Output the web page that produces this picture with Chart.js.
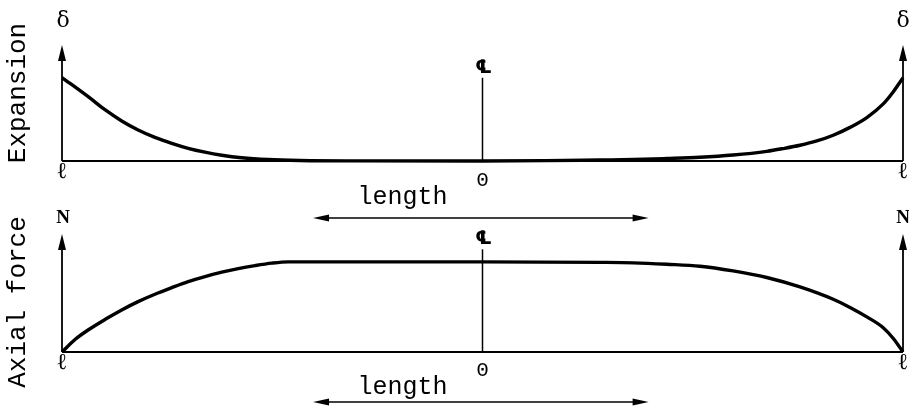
<!DOCTYPE html>
<html>
<head>
<meta charset="utf-8">
<script src="https://cdn.jsdelivr.net/npm/chart.js@4.4.1/dist/chart.umd.min.js"></script>
<style>
  body { margin: 0; background: #fff; }
  #wrap { position: relative; width: 909px; height: 407px; background: #fff; }
  #wrap canvas { position: absolute; left: 0; top: 0; }
</style>
</head>
<body>
<div id="wrap">
  <canvas id="expChart" width="909" height="407"></canvas>
  <canvas id="forceChart" width="909" height="407"></canvas>
</div>
<script>
// Expansion along the member (x from -l to +l, 0 at the centre line)
const xExp = [-1.0, -0.937, -0.897, -0.858, -0.819, -0.779, -0.739, -0.70, -0.66, -0.62, -0.573, -0.51, -0.434, -0.3, 0,
              0.15, 0.279, 0.359, 0.438, 0.517, 0.596, 0.676, 0.715, 0.755, 0.795, 0.834, 0.874, 0.914, 0.953, 0.977, 1.0];
const expansion = [0.993, 0.762, 0.607, 0.476, 0.369, 0.281, 0.21, 0.151, 0.105, 0.069, 0.039, 0.017, 0.006, 0.001, 0.0,
                   0.004, 0.012, 0.017, 0.029, 0.044, 0.071, 0.115, 0.148, 0.187, 0.238, 0.306, 0.40, 0.517, 0.68, 0.825, 0.99];

// Axial force along the member
const xForce = [-1.0, -0.969, -0.937, -0.897, -0.858, -0.819, -0.779, -0.739, -0.70, -0.66, -0.62, -0.581, -0.541, -0.501, -0.462, 0,
                0.279, 0.359, 0.438, 0.517, 0.596, 0.676, 0.755, 0.834, 0.874, 0.914, 0.953, 0.977, 1.0];
const axialForce = [0.0, 0.139, 0.247, 0.363, 0.467, 0.559, 0.641, 0.714, 0.781, 0.837, 0.886, 0.926, 0.959, 0.986, 1.0, 1.0,
                    0.995, 0.99, 0.974, 0.952, 0.90, 0.827, 0.722, 0.585, 0.495, 0.39, 0.27, 0.15, 0.0];

const endTicks = ['\u2113', '0', '\u2113'];   // tick labels at -l, 0, +l
const lengthArrow = [-0.403, 0.395];          // span of the "length" arrow

const MONO = '"Liberation Mono", "DejaVu Sans Mono", monospace';

function arrowHead(ctx, x, y, dx, dy, len, half) {
  // tip at (x, y), pointing along (dx, dy)
  const bx = x - dx * len, by = y - dy * len;
  ctx.beginPath();
  ctx.moveTo(x, y);
  ctx.lineTo(bx - dy * half, by + dx * half);
  ctx.lineTo(bx + dy * half, by - dx * half);
  ctx.closePath();
  ctx.fill();
}

// draws the axes, centre line, arrows and text of one panel
const diagram = {
  id: 'diagram',
  beforeDatasetsDraw(chart, args, opts) {
    const ctx = chart.ctx;
    const xs = chart.scales.x, ys = chart.scales.y;
    const area = chart.chartArea;
    const yb = ys.getPixelForValue(0);
    const xl = xs.getPixelForValue(-1), xr = xs.getPixelForValue(1), xc = xs.getPixelForValue(0);
    ctx.save();
    ctx.strokeStyle = '#000';
    ctx.fillStyle = '#000';

    // baseline
    ctx.lineWidth = 2;
    ctx.beginPath();
    ctx.moveTo(xl, yb); ctx.lineTo(xr, yb);
    ctx.stroke();

    // vertical axes with arrow heads
    ctx.lineWidth = 1.8;
    [xl, xr].forEach(x => {
      ctx.beginPath();
      ctx.moveTo(x, yb); ctx.lineTo(x, area.top + 8);
      ctx.stroke();
      arrowHead(ctx, x, area.top, 0, -1, 16, 4);
    });

    // centre line
    const yTop = ys.getPixelForValue(opts.clTop);
    ctx.lineWidth = 1.5;
    ctx.beginPath();
    ctx.moveTo(xc, yTop); ctx.lineTo(xc, yb);
    ctx.stroke();
    ctx.font = 'bold 19px "DejaVu Sans"';
    ctx.textAlign = 'center';
    ctx.textBaseline = 'middle';
    ctx.fillText('\u2104', xc + 1, yTop - 10);

    // end labels (delta / N)
    ctx.font = opts.endFont;
    ctx.fillText(opts.endLabel, xl + 1, area.top - opts.endGap);
    ctx.fillText(opts.endLabel, xr, area.top - opts.endGap);

    // tick labels l, 0, l
    ctx.font = '23px "DejaVu Serif"';
    ctx.fillText(endTicks[0], xl, yb + 11);
    ctx.fillText(endTicks[2], xr, yb + 11);
    ctx.font = '21px ' + MONO;
    ctx.fillText(endTicks[1], xc, yb + opts.zeroGap);

    // "length" with double arrow
    ctx.font = '25px ' + MONO;
    ctx.fillText('length', xs.getPixelForValue(-0.19), yb + opts.lenGap);
    const ya = yb + opts.arrowGap;
    const a0 = xs.getPixelForValue(lengthArrow[0]), a1 = xs.getPixelForValue(lengthArrow[1]);
    ctx.lineWidth = 1.3;
    ctx.beginPath();
    ctx.moveTo(a0 + 6, ya); ctx.lineTo(a1 - 6, ya);
    ctx.stroke();
    arrowHead(ctx, a0, ya, -1, 0, 16, 3.5);
    arrowHead(ctx, a1, ya, 1, 0, 16, 3.5);

    // rotated panel title
    ctx.font = '26px ' + MONO;
    ctx.translate(18, opts.titleY);
    ctx.rotate(-Math.PI / 2);
    ctx.fillText(opts.title, 0, 0);
    ctx.restore();
  }
};

function makeChart(id, xv, yv, yMax, padding, opts) {
  return new Chart(document.getElementById(id), {
    type: 'line',
    data: {
      datasets: [{
        data: xv.map((x, i) => ({ x: x, y: yv[i] })),
        borderColor: '#000',
        borderWidth: 3.4,
        pointRadius: 0,
        fill: false,
        cubicInterpolationMode: 'monotone',
        clip: false
      }]
    },
    options: {
      responsive: false,
      animation: false,
      events: [],
      layout: { padding: padding },
      scales: {
        x: { type: 'linear', min: -1, max: 1, display: false },
        y: { type: 'linear', min: 0, max: yMax, display: false }
      },
      plugins: {
        legend: { display: false },
        tooltip: { enabled: false },
        diagram: opts
      }
    },
    plugins: [diagram]
  });
}

makeChart('expChart', xExp, expansion, 1.38,
  { left: 62, right: 6, top: 45, bottom: 246 },
  { title: 'Expansion', titleY: 93, endLabel: '\u03b4', endFont: '22px "DejaVu Serif"', endGap: 24,
    clTop: 0.99, zeroGap: 19, lenGap: 36, arrowGap: 57 });

makeChart('forceChart', xForce, axialForce, 1.31,
  { left: 62, right: 6, top: 234, bottom: 55 },
  { title: 'Axial force', titleY: 302, endLabel: 'N', endFont: 'bold 19px "Liberation Serif"', endGap: 16,
    clTop: 1.14, zeroGap: 18, lenGap: 35, arrowGap: 50 });
</script>
</body>
</html>
